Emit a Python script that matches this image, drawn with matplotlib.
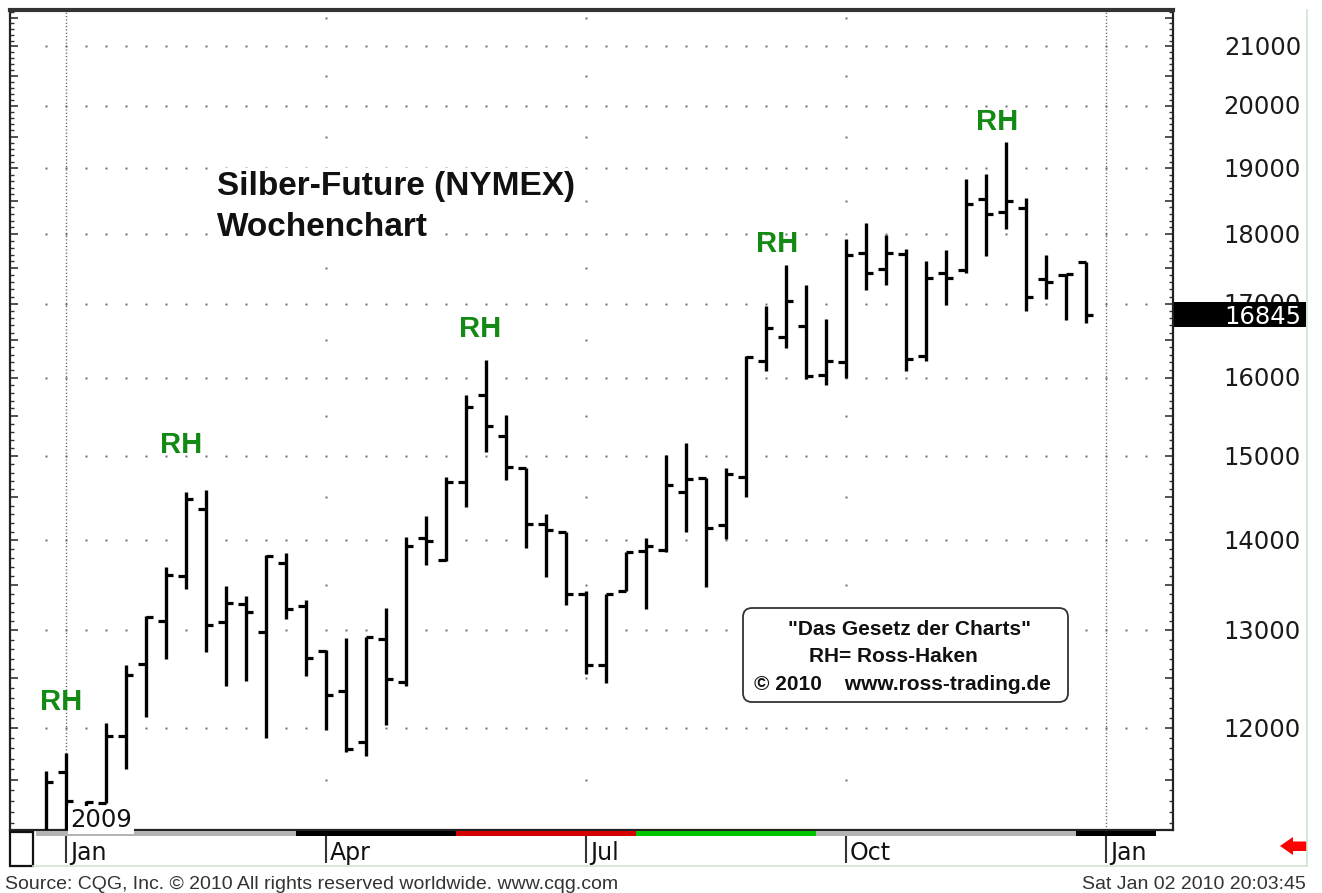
import matplotlib
matplotlib.use('Agg')
import matplotlib.pyplot as plt
import matplotlib.transforms as mtransforms
from matplotlib.patches import FancyBboxPatch, Polygon, Rectangle
from matplotlib.ticker import FixedLocator, NullFormatter

# ---------------- data ----------------
week = list(range(53))  # weekly bars, Dec 29 2008 ... Dec 28 2009
opens = [10950, 11570, 11100, 11280, 11920, 12650, 13100, 13600, 14360, 13090,
         13290, 12980, 13740, 13260, 12780, 12370, 11860, 12910, 12460, 14020,
         13770, 14690, 15770, 15250, 14850, 14190, 14100, 13390, 12640, 13430,
         13880, 13890, 14560, 14730, 14180, 14740, 16220, 16540, 16690, 16030,
         16200, 17730, 17490, 17710, 16290, 17440, 17480, 18530, 18330, 18390,
         17350, 17410, 17590]
highs = [11580, 11760, 11300, 12050, 12640, 13160, 13700, 14570, 14590, 13480,
         13370, 13830, 13850, 13330, 12790, 12920, 12930, 13240, 14040, 14280,
         14750, 15770, 16230, 15520, 14860, 14310, 14100, 13430, 13400, 13860,
         14020, 15010, 15160, 14730, 14850, 16280, 16970, 17550, 17260, 16790,
         17930, 18160, 17980, 17780, 17610, 17760, 18840, 18910, 19420, 18540,
         17700, 17420, 17590]
lows = [10900, 10950, 10950, 11280, 11600, 12110, 12700, 13450, 12770, 12420,
        12470, 11900, 13120, 12520, 11980, 11770, 11730, 12030, 12420, 13720,
        13760, 14390, 15050, 14710, 13910, 13580, 13270, 12540, 12450, 13430,
        13230, 13860, 14090, 13470, 14010, 14500, 16090, 16390, 15980, 15900,
        15990, 17190, 17260, 16090, 16220, 16980, 17440, 17680, 18080, 16900,
        17070, 16770, 16740]
closes = [11475, 11300, 11290, 11920, 12530, 13140, 13610, 14480, 13060, 13300,
          13200, 13820, 13230, 12710, 12330, 11790, 12930, 12490, 13930, 13990,
          14690, 15620, 15380, 14870, 14190, 14120, 13390, 12640, 13390, 13860,
          13930, 14650, 14720, 14140, 14780, 16270, 16670, 17040, 16020, 16220,
          17690, 17430, 17730, 16240, 17370, 17370, 18450, 18300, 18500, 17090,
          17300, 17420, 16845]
last_price = 16845

price_levels = [12000, 13000, 14000, 15000, 16000, 17000, 18000, 19000, 20000, 21000]
half_levels = [11500, 12500, 13500, 14500, 15500, 16500, 17500, 18500, 19500, 20500, 21500]

month_pos = [1, 14, 27, 40, 53]
month_labels = ['Jan', 'Apr', 'Jul', 'Oct', 'Jan']
year_label = '2009'

rh_x = [0.76, 6.77, 21.74, 36.59, 47.55]
rh_y = [12180, 15040, 16540, 17740, 19600]

strip_start = [-0.5, 12.5, 20.5, 29.5, 38.5, 51.5]
strip_end = [12.5, 20.5, 29.5, 38.5, 51.5, 55.5]
strip_color = ['#b4b4b4', '#000000', '#d40000', '#00c400', '#b4b4b4', '#000000']

# ---------------- figure ----------------
W, H = 1322, 893
fig = plt.figure(figsize=(W / 100, H / 100), dpi=100)
fig.patch.set_facecolor('white')


def fx(px):
    return px / W


def fy(py):
    return 1 - py / H


PL, PR, PT, PB = 10, 1173, 10, 830
ax = fig.add_axes([fx(PL), fy(PB), fx(PR) - fx(PL), fy(PT) - fy(PB)])
ax.set_yscale('log')
ax.set_xlim(-1.785, 56.365)
ax.set_ylim(11036, 21636)
ax.set_facecolor('white')

# grid dots
dot_x = list(range(0, 56))
for lv in price_levels:
    ax.plot(dot_x, [lv] * len(dot_x), ls='none', marker='s', ms=1.4,
            mec='none', mfc='#6a6a6a', zorder=1)
for q in [14, 27, 40]:
    ax.plot([q] * len(half_levels), half_levels, ls='none', marker='s', ms=1.4,
            mec='none', mfc='#6a6a6a', zorder=1)
for j in [1, 53]:
    ax.axvline(j, color='#5a5a5a', lw=1.0, ls=(0, (0.8, 1.6)), zorder=1)

# OHLC bars
tick = 0.38
ax.vlines(week, lows, highs, color='black', lw=2.4, zorder=3)
ax.hlines(opens, [w - tick for w in week], week, color='black', lw=2.3, zorder=3)
ax.hlines(closes, week, [w + tick for w in week], color='black', lw=2.3, zorder=3)

# RH labels
for x, y in zip(rh_x, rh_y):
    ax.text(x, y, 'RH', ha='center', va='baseline', fontsize=21,
            fontweight='bold', family='Liberation Sans', color='#138a13', zorder=4)

# spines / ticks
for s in ['left', 'right', 'bottom']:
    ax.spines[s].set_linewidth(1.6)
    ax.spines[s].set_color('#222222')
ax.spines['top'].set_linewidth(3.0)
ax.spines['top'].set_color('#333333')
ax.set_xticks([])
ax.yaxis.set_major_locator(FixedLocator(list(range(11500, 22000, 500))))
ax.yaxis.set_minor_locator(FixedLocator([v for v in range(11100, 21700, 100) if v % 500]))
ax.yaxis.set_major_formatter(NullFormatter())
ax.yaxis.set_minor_formatter(NullFormatter())
ax.tick_params(axis='y', which='major', direction='in', length=6, width=1.2,
               left=True, right=True, labelleft=False, labelright=False, color='#333333')
ax.tick_params(axis='y', which='minor', direction='in', length=3, width=1.0,
               left=True, right=True, color='#333333')

# last price box (pixel coords via a helper overlay defined later)
ov = fig.add_axes([0, 0, 1, 1])
ov.set_xlim(0, W)
ov.set_ylim(H, 0)
ov.axis('off')

# right axis labels (17000 is partly hidden behind the last-price box, as in the reference)
trans_lab = mtransforms.blended_transform_factory(fig.transFigure, ax.transData)
trans_lab = mtransforms.offset_copy(trans_lab, fig=fig, x=0, y=-8.6, units='dots')
clip_rect = Rectangle((1174, 0), 140, 301.5, transform=ov.transData)
for lv in price_levels:
    t = ax.text(fx(1301), lv, f'{lv}', transform=trans_lab, ha='right', va='baseline',
                fontsize=17.5, family='DejaVu Sans', color='#1a1a1a', clip_on=False)
    if lv == 17000:
        t.set_clip_path(clip_rect)
        t.set_clip_on(True)

# trend strip under plot
trans_x = mtransforms.blended_transform_factory(ax.transData, ax.transAxes)
hpx = PB - PT
for s0, s1, c in zip(strip_start, strip_end, strip_color):
    ax.add_patch(Rectangle((s0, -5.5 / hpx), s1 - s0, 5.0 / hpx, transform=trans_x,
                           facecolor=c, edgecolor='none', clip_on=False, zorder=5))
ax.add_patch(Rectangle((strip_start[0], -5.8 / hpx), strip_end[-1] - strip_start[0], 0.9 / hpx,
                       transform=trans_x, facecolor='#555555', edgecolor='none',
                       clip_on=False, zorder=4))

# month ticks & labels
trans_m = mtransforms.blended_transform_factory(ax.transData, fig.transFigure)
for p, lab in zip(month_pos, month_labels):
    ax.plot([p, p], [fy(835), fy(863)], transform=trans_m, color='#333333', lw=1.5,
            clip_on=False, solid_capstyle='butt')
    t = mtransforms.offset_copy(trans_m, fig=fig, x=4, y=0, units='dots')
    ax.text(p, fy(860), lab, transform=t, ha='left', va='baseline', fontsize=17,
            family='DejaVu Sans', color='#111111', clip_on=False)

# title
ov.text(217, 195, 'Silber-Future (NYMEX)', fontsize=24, fontweight='bold',
        family='Liberation Sans', color='#111111', ha='left', va='baseline',
        bbox=dict(facecolor='white', edgecolor='none', pad=2))
ov.text(217, 236, 'Wochenchart', fontsize=24, fontweight='bold',
        family='Liberation Sans', color='#111111', ha='left', va='baseline',
        bbox=dict(facecolor='white', edgecolor='none', pad=2))

# year label
ov.text(70, 827, year_label, fontsize=17.5, family='DejaVu Sans', color='#111111',
        ha='left', va='baseline', bbox=dict(facecolor='white', edgecolor='none', pad=1.5))

# legend box
ov.add_patch(FancyBboxPatch((743, 608), 325, 94, boxstyle='round,pad=0,rounding_size=9',
                            facecolor='white', edgecolor='#333333', lw=1.3, zorder=5))
ov.text(909, 635, '"Das Gesetz der Charts"', fontsize=15, fontweight='bold',
        family='Liberation Sans', ha='center', va='baseline', color='#111111', zorder=6)
ov.text(893, 662, 'RH= Ross-Haken', fontsize=15, fontweight='bold',
        family='Liberation Sans', ha='center', va='baseline', color='#111111', zorder=6)
ov.text(902, 690, '© 2010    www.ross-trading.de', fontsize=15, fontweight='bold',
        family='Liberation Sans', ha='center', va='baseline', color='#111111', zorder=6)

# last price box
ov.add_patch(Rectangle((1174, 302), 132, 25, facecolor='black', edgecolor='none', zorder=5))
ov.text(1301, 324, f'{last_price}', fontsize=17.5, family='DejaVu Sans', color='white',
        ha='right', va='baseline', zorder=6)

# small box bottom-left
ov.add_patch(Rectangle((10, 832), 23, 34, facecolor='none', edgecolor='#111111', lw=1.6))

# light green frame lines
ov.plot([33, 1307], [866, 866], color='#cfe6cf', lw=1.2)
ov.plot([1307, 1307], [10, 866], color='#cfe6cf', lw=1.2)

# red arrow
ov.add_patch(Polygon([(1280, 846), (1293, 837), (1293, 841.5), (1307, 841.5),
                      (1307, 851), (1293, 851), (1293, 855)], closed=True,
                     facecolor='#ff0000', edgecolor='none'))

# footer
ov.text(5, 889, 'Source: CQG, Inc. © 2010 All rights reserved worldwide. www.cqg.com',
        fontsize=14, family='Liberation Sans', color='#333333', ha='left', va='baseline')
ov.text(1306, 889, 'Sat Jan 02 2010 20:03:45', fontsize=14, family='Liberation Sans',
        color='#333333', ha='right', va='baseline')

fig.savefig('out.png', dpi=100, facecolor='white')
